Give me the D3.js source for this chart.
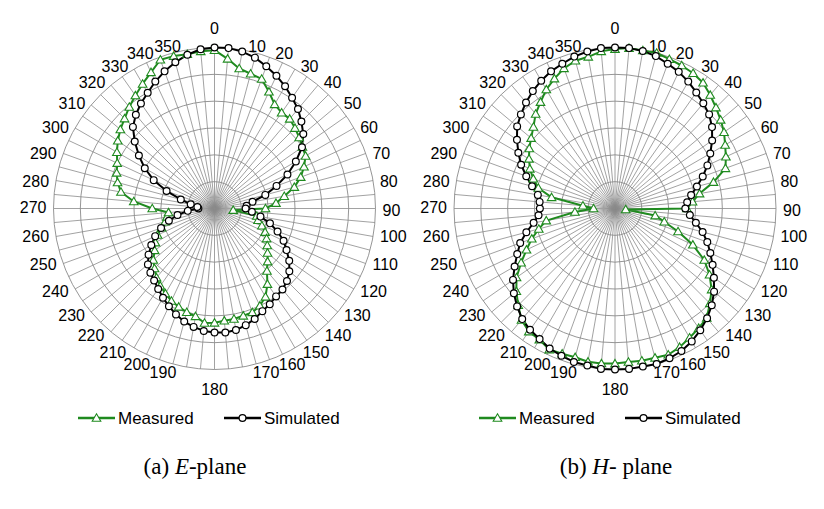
<!DOCTYPE html>
<html>
<head>
<meta charset="utf-8">
<script src="https://cdn.jsdelivr.net/npm/d3@7"></script>
<style>
  body { margin: 0; background: #fff; }
  svg { display: block; }
  .tick-label { font-family: "Liberation Sans", Arial, sans-serif; font-size: 16px; fill: #000; }
  .legend-text { font-family: "Liberation Sans", Arial, sans-serif; font-size: 17px; fill: #000; }
  .caption { font-family: "Liberation Serif", "Times New Roman", serif; font-size: 23px; fill: #000; }
</style>
</head>
<body>
<svg id="chart" width="824" height="509"></svg>
<script>
"use strict";

// angles of the data points (deg, clockwise from top)
const angles = [0, 5, 10, 15, 20, 25, 30, 35, 40, 45, 50, 55, 60, 65, 70, 75, 80, 85,
  90, 95, 100, 105, 110, 115, 120, 125, 130, 135, 140, 145, 150, 155, 160, 165, 170, 175,
  180, 185, 190, 195, 200, 205, 210, 215, 220, 225, 230, 235, 240, 245, 250, 255, 260, 265,
  270, 275, 280, 285, 290, 295, 300, 305, 310, 315, 320, 325, 330, 335, 340, 345, 350, 355];

// labelled axes, every 10 deg
const tickLabels = [0, 10, 20, 30, 40, 50, 60, 70, 80, 90, 100, 110, 120, 130, 140, 150, 160, 170,
  180, 190, 200, 210, 220, 230, 240, 250, 260, 270, 280, 290, 300, 310, 320, 330, 340, 350];

// grid rings (normalised dB)
const ringLevels = [-25, -20, -15, -10, -5, 0];

// (a) E-plane, dB
const eMeasured = [-0.5, -2.0, -3.5, -4.0, -4.3, -6.0, -7.6, -8.2, -8.2, -8.8, -9.4, -10.0,
  -10.4, -11.6, -12.9, -14.6, -16.8, -18.5, -20.5, -26.5, -22.0, -21.6, -20.6, -19.6,
  -18.8, -18.0, -17.1, -16.0, -14.8, -12.8, -11.0, -10.0, -9.4, -9.3, -9.1, -9.0,
  -8.7, -8.6, -9.6, -10.0, -10.5, -11.0, -11.7, -12.4, -13.2, -14.2, -15.1, -16.4,
  -17.3, -18.3, -19.5, -20.5, -21.0, -21.4, -18.4, -14.9, -12.3, -11.3, -10.6, -10.0,
  -9.0, -8.0, -7.1, -6.3, -5.3, -4.3, -3.2, -2.0, -0.5, -0.6, -0.8, -0.6];

const eSimulated = [0, 0, -0.3, -0.9, -1.8, -2.7, -3.7, -4.8, -5.8, -7.1, -8.4, -10.1,
  -12.5, -15.0, -17.7, -20.2, -22.8, -24.0, -24.2, -23.0, -21.3, -19.3, -17.5, -15.8,
  -14.5, -13.0, -11.8, -10.9, -10.3, -10.0, -9.4, -8.9, -8.1, -7.5, -7.0, -6.8,
  -6.9, -7.1, -7.6, -8.2, -9.0, -9.9, -10.8, -11.7, -12.5, -13.1, -13.8, -15.0,
  -16.4, -17.8, -19.4, -21.2, -23.0, -25.0, -27.0, -26.8, -25.5, -23.5, -20.5, -17.5,
  -15.0, -12.8, -10.6, -8.5, -7.2, -6.1, -5.1, -3.9, -2.8, -1.8, -0.9, -0.2];

// (b) H-plane, dB
const hMeasured = [-0.3, 0, -0.1, 0, -0.4, -0.6, -0.9, -1.4, -2.4, -3.4, -4.3, -5.2,
  -6.3, -7.2, -8.1, -11.0, -14.0, -15.5, -16.6, -28.0, -22.4, -20.5, -17.5, -14.0,
  -10.8, -8.5, -6.5, -5.0, -3.4, -2.8, -2.2, -1.5, -1.0, -1.2, -1.2, -1.3,
  -1.1, -1.0, -1.0, -1.3, -1.2, -1.0, -1.8, -2.0, -2.9, -4.5, -6.0, -7.6,
  -9.8, -11.8, -13.5, -15.3, -17.0, -22.5, -26.0, -24.0, -18.0, -15.2, -13.8, -12.5,
  -11.5, -10.5, -9.6, -8.5, -7.0, -5.8, -4.4, -3.3, -2.2, -1.5, -1.3, -0.6];

const hSimulated = [0, 0, -0.2, -0.6, -1.3, -1.9, -2.7, -3.6, -4.4, -5.2, -6.4, -7.9,
  -9.5, -11.0, -12.6, -14.2, -15.6, -16.5, -16.9, -16.0, -14.7, -13.1, -11.7, -10.4,
  -9.0, -7.5, -5.9, -4.5, -3.3, -2.3, -1.4, -0.7, -0.3, 0, -0.1, 0,
  0, 0, -0.3, -0.4, -0.8, -1.2, -1.9, -2.4, -3.1, -4.2, -5.4, -6.8,
  -8.4, -9.9, -11.2, -12.9, -14.6, -15.7, -16.0, -15.9, -15.4, -14.0, -12.4, -10.7,
  -9.2, -7.7, -6.2, -5.2, -4.2, -3.3, -2.5, -1.8, -1.3, -0.7, -0.3, 0];

const seriesNames = ["Measured", "Simulated"];
const seriesColors = ["#1f8a1f", "#000000"];

const svg = d3.select("#chart");
const R = 161;
const r = d3.scaleLinear().domain([-30, 0]).range([0, R]);
const a = d3.scaleLinear().domain([0, 360]).range([0, 2 * Math.PI]);

const charts = [
  { cx: 214.5, cy: 208.5, data: [eMeasured, eSimulated], legendX: 78, caption: ["(a) ", "E", "-plane"], captionX: 195 },
  { cx: 615, cy: 208.5, data: [hMeasured, hSimulated], legendX: 479, caption: ["(b) ", "H", "- plane"], captionX: 616 }
];

const triangle = d3.symbol(d3.symbolTriangle).size(32);

function drawMarker(g, i, x, y) {
  if (i === 0) {
    g.append("path").attr("d", triangle)
      .attr("transform", `translate(${x},${y + 0.8})`)
      .attr("fill", "#fff").attr("stroke", seriesColors[0]).attr("stroke-width", 1.1);
  } else {
    g.append("circle").attr("cx", x).attr("cy", y).attr("r", 3.4)
      .attr("fill", "#fff").attr("stroke", "#000").attr("stroke-width", 1.2);
  }
}

charts.forEach((c) => {
  const g = svg.append("g").attr("transform", `translate(${c.cx},${c.cy})`);

  // grid
  const grid = g.append("g").attr("class", "grid");
  grid.selectAll("line.spoke").data(angles).join("line")
    .attr("class", "spoke")
    .attr("x1", 0).attr("y1", 0)
    .attr("x2", (d) => R * Math.sin(a(d)))
    .attr("y2", (d) => -R * Math.cos(a(d)))
    .attr("stroke", "#8a8a8a").attr("stroke-width", 0.8);
  grid.selectAll("circle.ring").data(ringLevels).join("circle")
    .attr("class", "ring")
    .attr("r", (d) => r(d))
    .attr("fill", "none").attr("stroke", "#8a8a8a").attr("stroke-width", 0.9);

  // angle labels: anchored at a point just outside the outer ring
  tickLabels.forEach((t) => {
    const dx = Math.sin(a(t)), dy = -Math.cos(a(t));
    const px = (R + 6) * dx, py = (R + 6) * dy;
    const txt = g.append("text").attr("class", "tick-label").attr("dy", "0.36em").text(t);
    if (t === 0 || t === 180) {
      txt.attr("text-anchor", "middle").attr("x", px).attr("y", py + (t === 0 ? -13 : 14));
    } else {
      const shift = 1 + (dy > 0 ? 9 : 4) * Math.pow(Math.abs(dy), 6);
      txt.attr("text-anchor", dx > 0 ? "start" : "end")
        .attr("x", px + (dx > 0 ? shift : -shift))
        .attr("y", py + (dy < 0 ? 2 : -1));
    }
  });

  // series
  const line = d3.lineRadial()
    .angle((d, i) => a(angles[i]))
    .radius((d) => r(d))
    .curve(d3.curveLinearClosed);

  c.data.forEach((vals, i) => {
    g.append("path").datum(vals)
      .attr("d", line)
      .attr("fill", "none")
      .attr("stroke", seriesColors[i])
      .attr("stroke-width", 2)
      .attr("stroke-linejoin", "round");
  });
  c.data.forEach((vals, i) => {
    const mg = g.append("g");
    vals.forEach((v, j) => {
      const ang = a(angles[j]);
      drawMarker(mg, i, r(v) * Math.sin(ang), -r(v) * Math.cos(ang));
    });
  });

  // legend
  const lg = svg.append("g").attr("transform", `translate(${c.legendX},418)`);
  [0, 146].forEach((off, i) => {
    lg.append("line").attr("x1", off).attr("x2", off + 37).attr("y1", 0).attr("y2", 0)
      .attr("stroke", seriesColors[i]).attr("stroke-width", 2.4);
    drawMarker(lg, i, off + 18.5, 0);
    lg.append("text").attr("class", "legend-text")
      .attr("x", off + 40).attr("y", 0).attr("dy", "0.35em")
      .text(seriesNames[i]);
  });

  // caption
  const cap = svg.append("text").attr("class", "caption")
    .attr("x", c.captionX).attr("y", 474).attr("text-anchor", "middle");
  cap.append("tspan").text(c.caption[0]);
  cap.append("tspan").attr("font-style", "italic").text(c.caption[1]);
  cap.append("tspan").text(c.caption[2]);
});
</script>
</body>
</html>
